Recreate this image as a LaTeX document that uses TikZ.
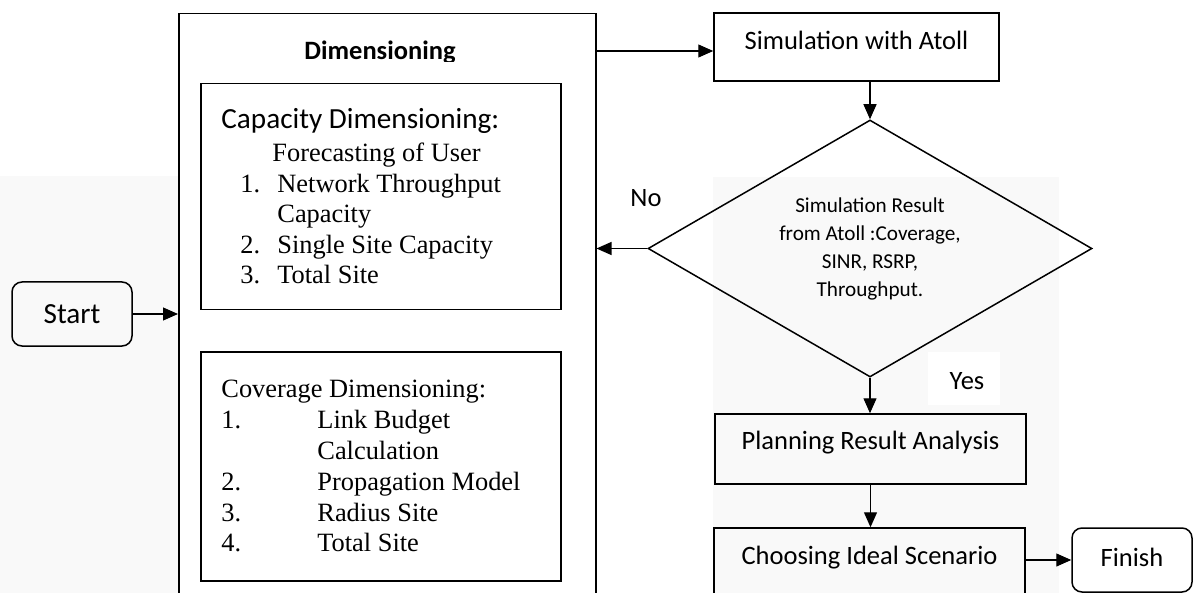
\documentclass[tikz,border=0pt]{standalone}
\usepackage{fontspec}
\setmainfont{Liberation Serif}
\newfontfamily\calibri{Carlito}
\usetikzlibrary{arrows.meta}
\usetikzlibrary{shapes.geometric}

\newcommand{\capitem}[2]{\hspace{9.5pt}\makebox[18.5pt][l]{#1}#2}
\newcommand{\covitem}[2]{\makebox[48pt][l]{#1}#2}

\tikzset{
  arr/.style={-{Triangle[length=7.5pt,width=6.5pt]}, line width=0.6pt},
  procbox/.style={draw, line width=0.75pt, inner sep=0pt, text height=9pt, text depth=9pt,
                  font=\calibri\fontsize{13.25}{16}\selectfont},
  termbox/.style={procbox, rounded corners=5pt},
  decbox/.style={draw, diamond, aspect=1.73, line width=0.75pt, inner sep=0pt,
                 minimum width=222pt, minimum height=128.5pt, align=center,
                 font=\calibri\fontsize{10.6}{14}\selectfont},
  lbl/.style={inner sep=0pt, font=\calibri\fontsize{13.25}{16}\selectfont},
  listtext/.style={inner sep=0pt, anchor=base west}
}

\begin{document}
\begin{tikzpicture}[x=0.5pt,y=-0.5pt]
  \useasboundingbox (0,0) rectangle (1194,593);
  \clip (0,0) rectangle (1194,593);
  % faint page backdrop
  \fill[black!2.5] (0,176) rectangle (178,593);
  \fill[black!2.5] (713,177) rectangle (1059,593);
  \fill[white] (928,352) rectangle (1000,405);

  % dimensioning block
  \node[procbox, anchor=north west, minimum width=208.5pt, minimum height=313.5pt] (dim) at (178,13) {};
  \begin{scope}
    \clip (178,13) rectangle (595,62);
    \node[lbl, font=\calibri\bfseries\fontsize{13.25}{16}\selectfont, anchor=base] (dimtitle) at (380,60) {Dimensioning};
  \end{scope}

  \node[procbox, anchor=north west, minimum width=180pt, minimum height=113pt] (cap) at (200,83) {};
  \node[listtext, font=\fontsize{13.2}{15.25}\selectfont] (captext) at (221,129) {%
    \begin{tabular}[t]{@{}l@{}}
      {\calibri\fontsize{14.6}{16.5}\selectfont Capacity Dimensioning:}\\[1.25pt]
      \hspace{25.5pt}Forecasting of User\\
      \capitem{1.}{Network Throughput}\\
      \capitem{}{Capacity}\\
      \capitem{2.}{Single Site Capacity}\\
      \capitem{3.}{Total Site}
    \end{tabular}};

  \node[procbox, anchor=north west, minimum width=180pt, minimum height=114.5pt] (cov) at (200,351) {};
  \node[listtext, font=\fontsize{13.2}{15.5}\selectfont] (covtext) at (221,397) {%
    \begin{tabular}[t]{@{}l@{}}
      Coverage Dimensioning:\\
      \covitem{1.}{Link Budget}\\
      \covitem{}{Calculation}\\
      \covitem{2.}{Propagation Model}\\
      \covitem{3.}{Radius Site}\\
      \covitem{4.}{Total Site}
    \end{tabular}};

  % flow on the right
  \node[procbox, minimum width=142.5pt, minimum height=34pt, text depth=6pt] (sim) at (856.5,47) {Simulation with Atoll};
  \node[decbox] (dec) at (870,248.5) {Simulation Result\\from Atoll :Coverage,\\SINR, RSRP,\\Throughput.};
  \node[procbox, minimum width=155.5pt, minimum height=35pt] (plan) at (870.5,449) {Planning Result Analysis};
  \node[procbox, minimum width=155.5pt, minimum height=35pt, text depth=8pt] (choose) at (869.5,563) {Choosing Ideal Scenario};

  \node[termbox, minimum width=60pt, minimum height=32pt, text depth=0pt,
        font=\calibri\fontsize{14.6}{16}\selectfont] (start) at (72,314) {Start};
  \node[termbox, minimum width=60pt, minimum height=32pt, text depth=3pt] (finish) at (1132,560) {Finish};

  \node[lbl, anchor=base] (no) at (646,207) {No};
  \node[lbl, anchor=base] (yes) at (967,389) {Yes};

  % connectors
  \coordinate (simin) at ([yshift=-2pt]sim.west);
  \draw[arr] (start.east) -- (start.east -| dim.west);
  \draw[arr] (simin -| dim.east) -- (simin);
  \draw[arr] (sim.south -| dec.north) -- (dec.north);
  \draw[arr] (dec.west) -- (dec.west -| dim.east);
  \draw[arr] (dec.south) -- (dec.south |- plan.north);
  \draw[arr] (plan.south) -- (plan.south |- choose.north);
  \draw[arr] (choose.east |- finish.west) -- (finish.west);
\end{tikzpicture}
\end{document}
